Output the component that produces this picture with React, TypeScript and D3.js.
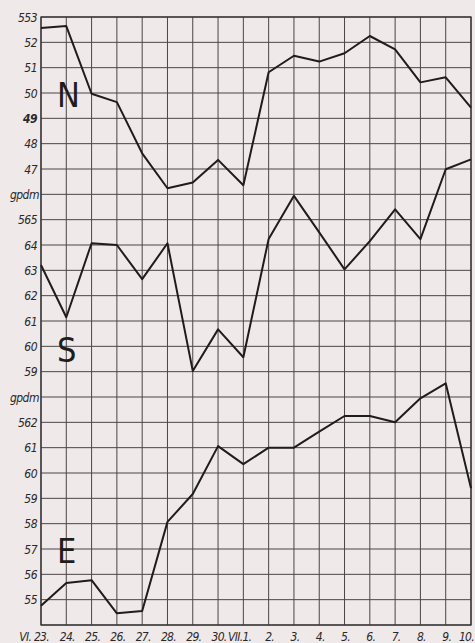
import React from "react";
import * as d3 from "d3";

const days = ["VI. 23.", "24.", "25.", "26.", "27.", "28.", "29.", "30.", "VII.1.", "2.", "3.", "4.", "5.", "6.", "7.", "8.", "9.", "10."];

const seriesN = [552.57, 552.64, 549.97, 549.64, 547.62, 546.24, 546.47, 547.36, 546.36, 550.82, 551.47, 551.24, 551.57, 552.25, 551.72, 550.42, 550.62, 549.42];
const seriesS = [563.21, 561.15, 564.07, 564.0, 562.65, 564.07, 559.03, 560.67, 559.57, 564.24, 565.94, 564.5, 563.04, 564.15, 565.41, 564.23, 566.99, 567.38];
const seriesE = [554.76, 555.66, 555.77, 554.46, 554.55, 558.07, 559.17, 561.06, 560.35, 561.0, 561.0, 561.63, 562.25, 562.25, 562.0, 562.95, 563.54, 559.4];

const rowLabels = ["553", "52", "51", "50", "49", "48", "47", "gpdm", "565", "64", "63", "62", "61", "60", "59", "gpdm", "562", "61", "60", "59", "58", "57", "56", "55"];

const W = 475, H = 643;
const left = 41, right = 471, top = 17, bottom = 625;
const nRows = 24;

export default function App() {
  const x = d3.scaleLinear().domain([0, days.length - 1]).range([left, right]);
  const row = d3.scaleLinear().domain([0, nRows]).range([top, bottom]);
  const yN = d3.scaleLinear().domain([553, 553 - nRows]).range([top, bottom]);
  const yS = d3.scaleLinear().domain([565 + 8, 565 + 8 - nRows]).range([top, bottom]);
  const yE = d3.scaleLinear().domain([562 + 16, 562 + 16 - nRows]).range([top, bottom]);

  const mk = (y: d3.ScaleLinear<number, number>) =>
    d3.line<number>().x((_, i) => x(i)).y((d) => y(d));

  const lines = [
    { data: seriesN, y: yN },
    { data: seriesS, y: yS },
    { data: seriesE, y: yE },
  ];

  const labelFont = "'DejaVu Sans Condensed', 'Liberation Sans', sans-serif";

  return (
    <svg width={W} height={H} style={{ display: "block" }}>
      <style>{`body{margin:0;}`}</style>
      <rect x={0} y={0} width={W} height={H} fill="#efe9ea" />
      {/* grid */}
      <g stroke="#4a4646" strokeWidth={1}>
        {d3.range(nRows + 1).map((r) => (
          <line key={"h" + r} x1={left} x2={right} y1={row(r)} y2={row(r)} />
        ))}
        {days.map((_, i) => (
          <line key={"v" + i} x1={x(i)} x2={x(i)} y1={top} y2={bottom} />
        ))}
      </g>
      <rect x={left} y={top} width={right - left} height={bottom - top} fill="none" stroke="#333" strokeWidth={1.3} />
      {/* y labels */}
      <g fontFamily={labelFont} fontStyle="italic" fontSize={12} letterSpacing={-0.5} fill="#2a2828" textAnchor="end">
        {rowLabels.map((t, r) => (
          <text key={r} x={t === "gpdm" ? 39 : 37} y={row(r) + 4.5} fontWeight={t === "49" ? "bold" : "normal"}>
            {t}
          </text>
        ))}
      </g>
      {/* x labels */}
      <g fontFamily={labelFont} fontStyle="italic" fontSize={12} letterSpacing={-0.7} fill="#2a2828">
        {days.map((t, i) => {
          const hasPrefix = t.startsWith("V");
          const last = i === days.length - 1;
          return (
            <text
              key={i}
              x={hasPrefix ? x(i) + 8 : last ? 474 : x(i) + 1}
              y={641}
              textAnchor={hasPrefix || last ? "end" : "middle"}
            >
              {t}
            </text>
          );
        })}
      </g>
      {/* series */}
      <g fill="none" stroke="#1e1c1c" strokeWidth={2} strokeLinejoin="round">
        {lines.map((l, k) => (
          <path key={k} d={mk(l.y)(l.data) || ""} />
        ))}
      </g>
      {/* series letters */}
      <g fontFamily="'DejaVu Sans Condensed', 'Liberation Sans', sans-serif" fontSize={34} fill="#1e1c1c">
        <text x={57} y={107}>N</text>
        <text x={57} y={362}>S</text>
        <text x={57} y={563}>E</text>
      </g>
    </svg>
  );
}
